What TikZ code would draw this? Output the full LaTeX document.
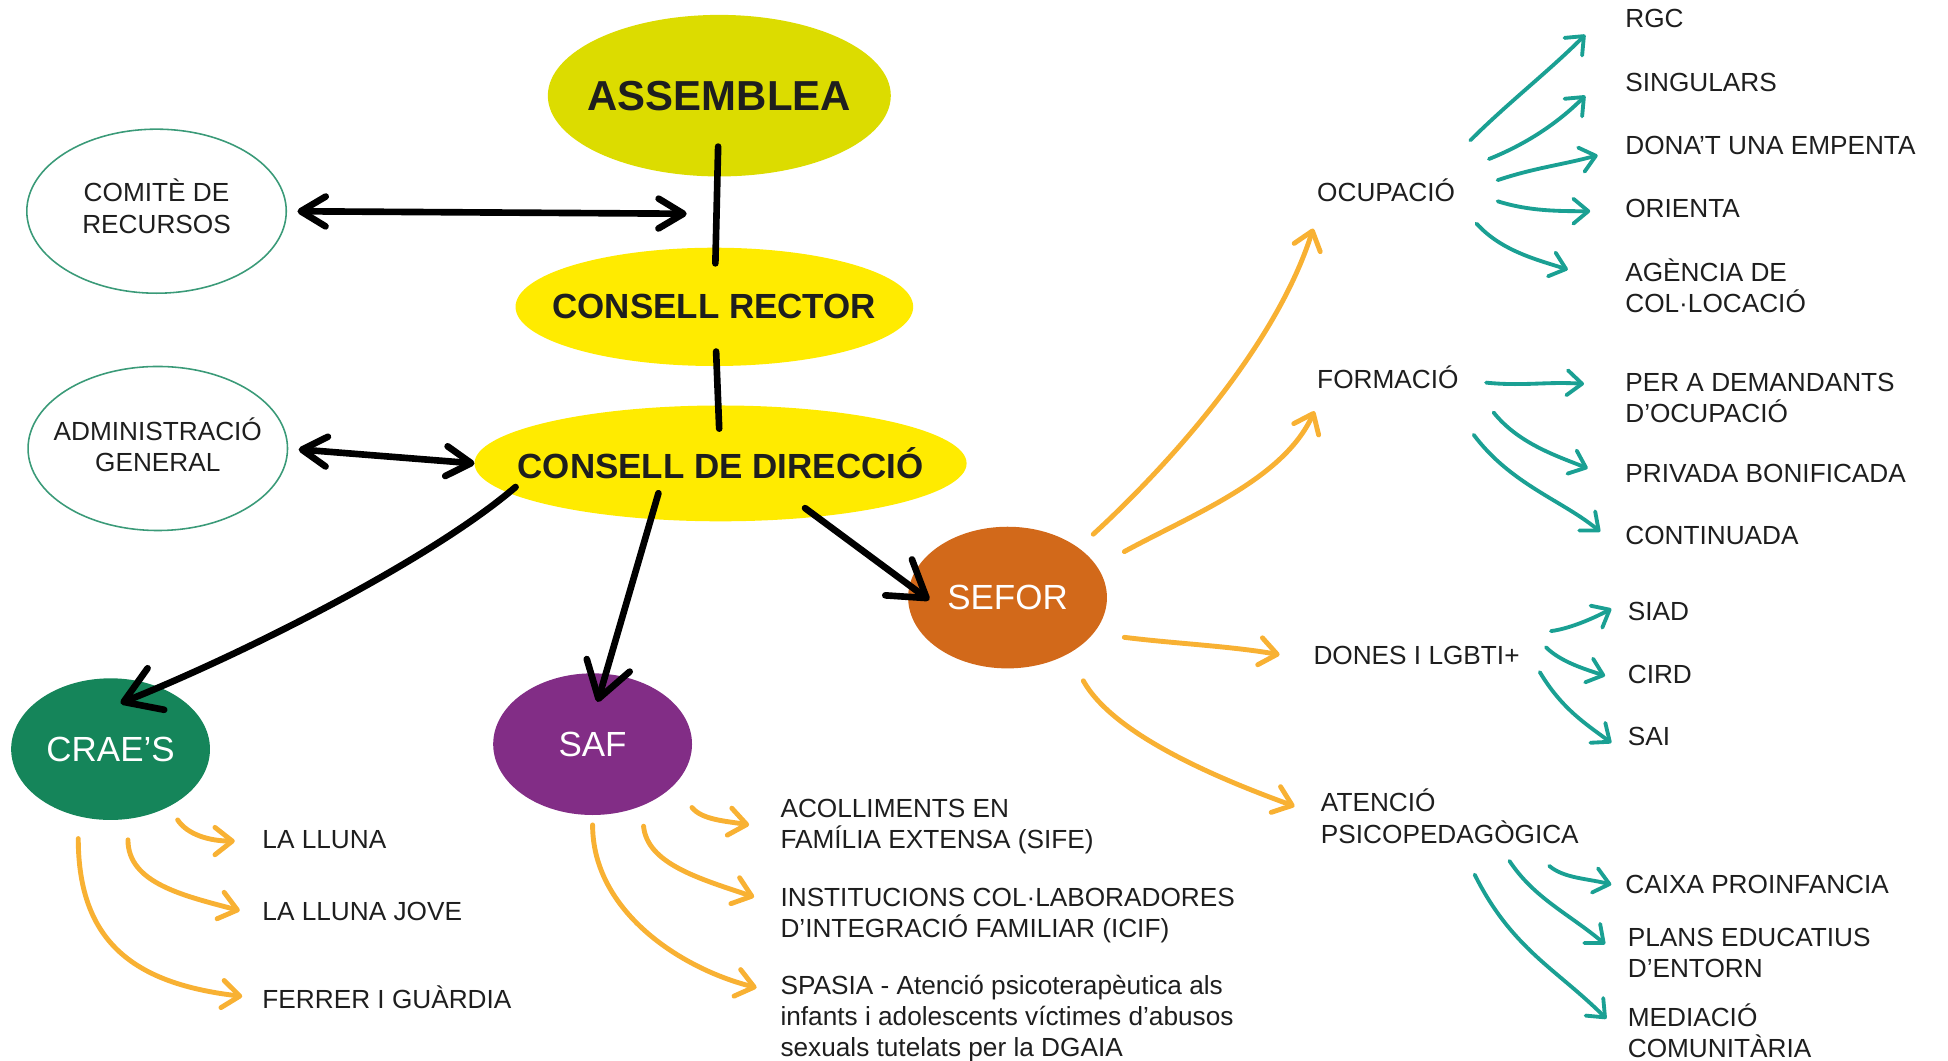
\documentclass[tikz,border=0pt]{standalone}
\usepackage{fontspec}
\setmainfont{Liberation Sans}
\usetikzlibrary{arrows.meta,shapes.geometric}

\definecolor{assemblycol}{HTML}{DCDC00}
\definecolor{councilcol}{HTML}{FFEB00}
\definecolor{seforcol}{HTML}{D2691A}
\definecolor{craescol}{HTML}{15855A}
\definecolor{safcol}{HTML}{822D86}
\definecolor{sidecol}{HTML}{3A9A78}
\definecolor{orangecol}{HTML}{F8B133}
\definecolor{tealcol}{HTML}{1AA093}
\definecolor{textcol}{HTML}{1E1E1E}

\newcommand{\lblsize}{\fontsize{15}{17.8}\selectfont}
\newcommand{\headsize}{\fontsize{20}{24}\selectfont}

\tikzset{
  ell/.style={ellipse, inner sep=0pt, outer sep=0pt},
  every label/.style={align=center, inner sep=0pt, text=textcol},
  council/.style={ell, fill=councilcol},
  side/.style={ell, draw=sidecol, line width=0.9pt, minimum width=5.22cm, minimum height=3.3cm},
  blob/.style={ell, fill=#1, text=white, font=\headsize, minimum width=4cm, minimum height=2.85cm},
  lbl/.style={anchor=west, inner sep=0pt, align=left, font=\lblsize, text=textcol},
  blk/.style={line width=3.8pt, line cap=round, line join=round},
  dbl/.style={blk, <->, >={Straight Barb[length=5mm,width=6mm,round]}},
  bigtip/.style={->, >={Straight Barb[length=7mm,width=9mm,round]}},
  oarr/.style={orangecol, line width=2.8pt, line cap=round, ->, >={Straight Barb[length=3.5mm,width=5.5mm,round]}},
  tarr/.style={tealcol, line width=2.2pt, line cap=round, ->, >={Straight Barb[length=3mm,width=5mm,round]}}
}

\begin{document}
\begin{tikzpicture}[x=0.025cm,y=-0.025cm]
\useasboundingbox (0,0) rectangle (1568,854);

\node[ell, fill=assemblycol, minimum width=6.9cm, minimum height=3.25cm,
  label={[font=\bfseries\fontsize{24}{28}\selectfont]center:ASSEMBLEA}] (assemblea) at (579,77) {};
\node[council, minimum width=8cm, minimum height=2.38cm,
  label={[font=\bfseries\headsize]center:CONSELL RECTOR}] (rector) at (575,247) {};
\node[council, minimum width=9.9cm, minimum height=2.33cm,
  label={[font=\bfseries\headsize]center:CONSELL DE DIRECCIÓ}] (cdd) at (580,373) {};
\node[side, label={[font=\lblsize, yshift=0.1cm]center:COMITÈ DE\\RECURSOS}] (comite) at (126,170) {};
\node[side, label={[font=\lblsize, yshift=0.07cm]center:ADMINISTRACIÓ\\GENERAL}] (admin) at (127,361) {};
\node[blob=seforcol] (sefor) at (811,481) {SEFOR};
\node[blob=craescol] (craes) at (89,603) {CRAE’S};
\node[blob=safcol] (saf) at (477,599) {SAF};

\draw[blk, shorten <=1.025cm, shorten >=0.875cm] (assemblea.center) -- coordinate[pos=0.56] (junct) (rector.center);
\draw[blk, shorten <=0.9cm, shorten >=0.7cm] (rector.center) -- (cdd.center);
\draw[dbl, shorten <=0.225cm, shorten >=0.6cm] (comite.east) -- (junct);
\draw[dbl, shorten <=0.225cm] (admin.east) -- (cdd.west);
\draw[blk, bigtip] ([shift={(-165,19)}]cdd.center) .. controls +(-70,60) and +(95,-38) .. ([shift={(8,-37)}]craes.center);
\draw[blk, bigtip] ([shift={(-50,24)}]cdd.center) -- ([shift={(4,-34)}]saf.center);
\draw[blk, bigtip] ([shift={(68,36)}]cdd.center) -- ([shift={(-63,2)}]sefor.center);

\node[lbl] (lluna) at (211,676) {LA LLUNA};
\node[lbl] (jove) at (211,734) {LA LLUNA JOVE};
\node[lbl] (ferrer) at (211,803) {FERRER I GUÀRDIA};
\node[lbl] (sife) at (628,665) {ACOLLIMENTS EN\\FAMÍLIA EXTENSA (SIFE)};
\node[lbl] (icif) at (628,737) {INSTITUCIONS COL·LABORADORES\\D’INTEGRACIÓ FAMILIAR (ICIF)};
\node[lbl] (spasia) at (628,820) {SPASIA - Atenció psicoterapèutica als\\infants i adolescents víctimes d’abusos\\sexuals tutelats per la DGAIA};

\node[lbl] (ocup) at (1060,153) {OCUPACIÓ};
\node[lbl] (form) at (1060,304) {FORMACIÓ};
\node[lbl] (dones) at (1057,528) {DONES I LGBTI+};
\node[lbl] (aten) at (1063,657) {ATENCIÓ\\PSICOPEDAGÒGICA};

\node[lbl] (rgc) at (1308,15) {RGC};
\node[lbl] (sing) at (1308,66) {SINGULARS};
\node[lbl] (dona) at (1308,117) {DONA’T UNA EMPENTA};
\node[lbl] (orie) at (1308,168) {ORIENTA};
\node[lbl] (agen) at (1308,230) {AGÈNCIA DE\\COL·LOCACIÓ};
\node[lbl] (dem) at (1308,320) {PER A DEMANDANTS\\D’OCUPACIÓ};
\node[lbl] (priv) at (1308,381) {PRIVADA BONIFICADA};
\node[lbl] (cont) at (1308,431) {CONTINUADA};
\node[lbl] (siad) at (1310,492) {SIAD};
\node[lbl] (cird) at (1310,543) {CIRD};
\node[lbl] (sai) at (1310,593) {SAI};
\node[lbl] (caixa) at (1308,712) {CAIXA PROINFANCIA};
\node[lbl] (plans) at (1310,767) {PLANS EDUCATIUS\\D’ENTORN};
\node[lbl] (medi) at (1310,830) {MEDIACIÓ\\COMUNITÀRIA};

\draw[oarr] ([shift={(54,57)}]craes.center) .. controls +(8,12) and +(-20,0) .. ([shift={(-22,1)}]lluna.west);
\draw[oarr] ([shift={(14,73)}]craes.center) .. controls +(0,35) and +(-45,-12) .. ([shift={(-18,-1)}]jove.west);
\draw[oarr] ([shift={(-26,72)}]craes.center) .. controls +(0,85) and +(-85,-10) .. ([shift={(-16,-1)}]ferrer.west);

\draw[oarr] ([shift={(80,51)}]saf.center) .. controls +(8,10) and +(-18,-3) .. ([shift={(-25,-1)}]sife.west);
\draw[oarr] ([shift={(41,66)}]saf.center) .. controls +(3,30) and +(-45,-15) .. ([shift={(-21,-15)}]icif.west);
\draw[oarr] ([shift={(0,65)}]saf.center) .. controls +(0,70) and +(-60,-15) .. ([shift={(-19,-25)}]spasia.west);

\draw[oarr] ([shift={(69,-51)}]sefor.center) .. controls +(60,-55) and +(-30,95) .. ([shift={(-3,31)}]ocup.west);
\draw[oarr] ([shift={(94,-37)}]sefor.center) .. controls +(55,-30) and +(-25,55) .. ([shift={(-2,27)}]form.west);
\draw[oarr] ([shift={(94,32)}]sefor.center) .. controls +(40,5) and +(-40,-7) .. ([shift={(-27,-1)}]dones.west);
\draw[oarr] ([shift={(61,67)}]sefor.center) .. controls +(25,45) and +(-55,-20) .. ([shift={(-21,-8)}]aten.west);

\draw[tarr] ([shift={(12,-40)}]ocup.east) .. controls +(30,-30) and +(-30,30) .. ([shift={(-32,13)}]rgc.west);
\draw[tarr] ([shift={(27,-25)}]ocup.east) .. controls +(30,-12) and +(-22,22) .. ([shift={(-32,11)}]sing.west);
\draw[tarr] ([shift={(34,-8)}]ocup.east) .. controls +(30,-10) and +(-30,8) .. ([shift={(-22,8)}]dona.west);
\draw[tarr] ([shift={(34,9)}]ocup.east) .. controls +(25,8) and +(-25,0) .. ([shift={(-28,2)}]orie.west);
\draw[tarr] ([shift={(17,27)}]ocup.east) .. controls +(20,22) and +(-25,-8) .. ([shift={(-46,-13)}]agen.west);

\draw[tarr] ([shift={(22,4)}]form.east) .. controls +(30,3) and +(-30,-2) .. ([shift={(-33,-11)}]dem.west);
\draw[tarr] ([shift={(28,28)}]form.east) .. controls +(20,25) and +(-25,-10) .. ([shift={(-30,-4)}]priv.west);
\draw[tarr] ([shift={(12,46)}]form.east) .. controls +(30,40) and +(-30,-25) .. ([shift={(-20,-3)}]cont.west);

\draw[tarr] ([shift={(25,-20)}]dones.east) .. controls +(15,-2) and +(-15,8) .. ([shift={(-13,-2)}]siad.west);
\draw[tarr] ([shift={(21,-7)}]dones.east) .. controls +(12,12) and +(-15,-5) .. ([shift={(-18,1)}]cird.west);
\draw[tarr] ([shift={(16,13)}]dones.east) .. controls +(18,30) and +(-20,-15) .. ([shift={(-13,5)}]sai.west);

\draw[tarr] ([shift={(184,40)}]aten.west) .. controls +(12,10) and +(-20,-5) .. ([shift={(-11,0)}]caixa.west);
\draw[tarr] ([shift={(152,36)}]aten.west) .. controls +(20,30) and +(-30,-25) .. ([shift={(-18,-7)}]plans.west);
\draw[tarr] ([shift={(124,47)}]aten.west) .. controls +(30,60) and +(-40,-40) .. ([shift={(-17,-10)}]medi.west);
\end{tikzpicture}
\end{document}
